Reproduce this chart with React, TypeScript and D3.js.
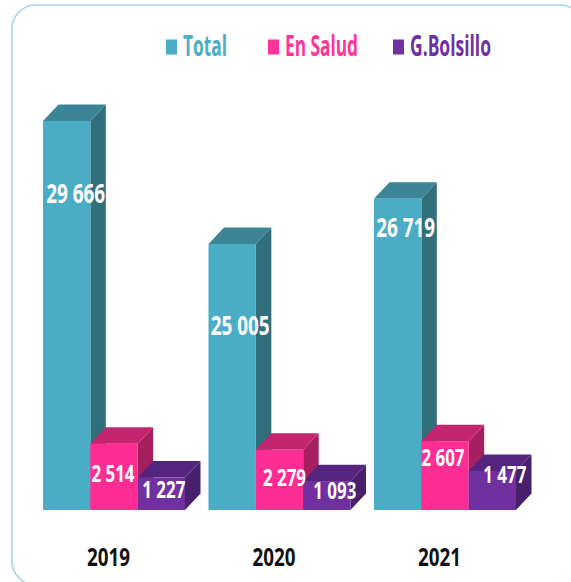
import React from "react";
import * as d3 from "d3";

const years = ["2019", "2020", "2021"];
const seriesNames = ["Total", "En Salud", "G.Bolsillo"];
const totalValues = [29666, 25005, 26719];
const saludValues = [2514, 2279, 2607];
const bolsilloValues = [1227, 1093, 1477];

// styles / layout (not data)
const W = 571;
const H = 582;
const baseY = 510;
const depthX = 15.5;
const depthY = 16.5;
const seriesColors = [
  { front: "#4bacc6", top: "#3b8597", side: "#316f7d", legend: "#4bacc6" },
  { front: "#fe2d93", top: "#c5246f", side: "#a6205f", legend: "#ff3399" },
  { front: "#7030a0", top: "#54247f", side: "#48206b", legend: "#7030a0" },
];
// label nudges: [dx from front-face centre, dy from front-face top]
const labelNudges = [
  [[9, 72], [8, 81], [8, 28]],
  [[-1, 29], [5, 27], [-2, 16]],
  [[2.5, 11], [8, 9], [12.5, 3]],
];
const legendTextWidths = [44, 73, 81];

const FONT = "'Open Sans', 'Noto Sans', sans-serif";

const fmt = (v: number) => d3.format(",")(v).replace(/,/g, " ");

export default function App() {
  const seriesValues = [totalValues, saludValues, bolsilloValues];

  const x0 = d3.scaleBand<string>().domain(years).range([43, 516]).paddingInner(0.142).paddingOuter(0);
  const x1 = d3.scaleBand<string>().domain(seriesNames).range([0, x0.bandwidth()]).padding(0);
  // small series: linear from zero; Total: offset (secondary) axis
  const ySmall = d3.scaleLinear().domain([0, 15000]).range([baseY, baseY - 396]);
  const yTotal = d3.scaleLinear().domain([14930, 29930]).range([baseY, baseY - 396]);
  const scales = [yTotal, ySmall, ySmall];

  const bars: React.ReactNode[] = [];
  const labels: React.ReactNode[] = [];
  years.forEach((yr, gi) => {
    seriesNames.forEach((s, si) => {
      const v = seriesValues[si][gi];
      const x = (x0(yr) as number) + (x1(s) as number);
      const w = x1.bandwidth();
      const yTop = scales[si](v);
      const c = seriesColors[si];
      const topPts = [
        [x, yTop],
        [x + depthX, yTop - depthY],
        [x + w + depthX, yTop - depthY],
        [x + w, yTop],
      ];
      const sidePts = [
        [x + w, yTop],
        [x + w + depthX, yTop - depthY],
        [x + w + depthX, baseY - depthY],
        [x + w, baseY],
      ];
      bars.push(
        <g key={`${yr}-${s}`}>
          <polygon points={sidePts.map((p) => p.join(",")).join(" ")} fill={c.side} />
          <polygon points={topPts.map((p) => p.join(",")).join(" ")} fill={c.top} />
          <rect x={x} y={yTop} width={w} height={baseY - yTop} fill={c.front} />
        </g>
      );
      const [ndx, ndy] = labelNudges[si][gi];
      const fs = si === 0 ? 26 : 23.5;
      const tl = si === 0 ? 59 : 43;
      labels.push(
        <text
          key={`l-${yr}-${s}`}
          x={x + w / 2 + ndx}
          y={yTop + ndy}
          textAnchor="middle"
          dominantBaseline="central"
          fill="#ffffff"
          fontFamily={FONT}
          fontWeight="bold"
          fontSize={fs}
          textLength={tl}
          lengthAdjust="spacingAndGlyphs"
        >
          {fmt(v)}
        </text>
      );
    });
  });

  const legendX = [166, 268, 393];
  return (
    <svg
      width={W}
      height={H}
      style={{ position: "absolute", left: 0, top: 0, background: "#fff" }}
    >
      <rect x={12} y={5} width={572} height={580} rx={24} ry={24} fill="#fff" stroke="#a6d6e3" strokeWidth={1.6} />
      {seriesNames.map((s, i) => (
        <g key={s}>
          <rect x={legendX[i]} y={39.5} width={11} height={15} fill={seriesColors[i].legend} />
          <text
            x={legendX[i] + 17}
            y={56}
            fill={seriesColors[i].legend}
            fontFamily={FONT}
            fontWeight="bold"
            fontSize={28}
            textLength={legendTextWidths[i]}
            lengthAdjust="spacingAndGlyphs"
          >
            {s}
          </text>
        </g>
      ))}
      {bars}
      {labels}
      {years.map((yr) => (
        <text
          key={yr}
          x={(x0(yr) as number) + x0.bandwidth() / 2 - 5.5}
          y={556}
          textAnchor="middle"
          dominantBaseline="central"
          fill="#111"
          fontFamily={FONT}
          fontWeight="bold"
          fontSize={25}
          textLength={43}
          lengthAdjust="spacingAndGlyphs"
        >
          {yr}
        </text>
      ))}
    </svg>
  );
}
